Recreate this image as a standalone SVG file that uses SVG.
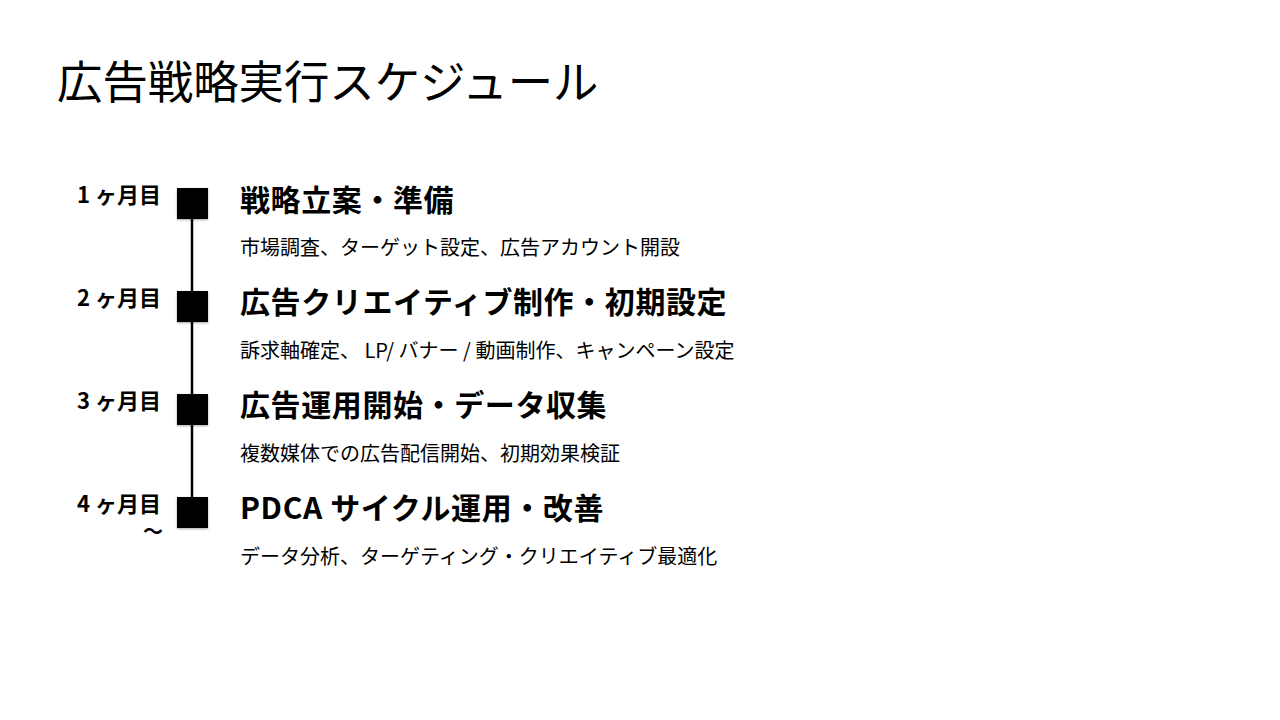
<svg xmlns="http://www.w3.org/2000/svg" width="1280" height="720" viewBox="0 0 1280 720">
<style>
text{font-family:"Noto Sans CJK JP","Noto Sans",sans-serif;fill:#000}
.title{font-size:45.4px;font-weight:400}
.mon{font-size:22px;font-weight:700;text-anchor:end}
.tilde{font-size:20px;font-weight:700;text-anchor:end}
.head{font-size:30px;font-weight:700;letter-spacing:0.6px}
.desc{font-size:20px;font-weight:400}
.sq{fill:#000;filter:url(#sh)}
</style>
<defs>
<filter id="sh" x="-30%" y="-30%" width="160%" height="160%">
<feDropShadow dx="0" dy="1" stdDeviation="1.2" flood-color="#000" flood-opacity="0.35"/>
</filter>
</defs>
<rect width="1280" height="720" fill="#fff"/>
<text class="title" x="57" y="99">広告戦略実行スケジュール</text>
<g id="connectors">
<line x1="192" y1="219" x2="192" y2="497" stroke="#000" stroke-width="2.5"/>
</g>
<g id="step1">
<text class="mon" x="161" y="203">1 ヶ月目</text>
<rect class="sq" x="177" y="188" width="31" height="31"/>
<text class="head" x="240" y="211">戦略立案・準備</text>
<text class="desc" x="240" y="255">市場調査、ターゲット設定、広告アカウント開設</text>
</g>
<g id="step2">
<text class="mon" x="161" y="306">2 ヶ月目</text>
<rect class="sq" x="177" y="291" width="31" height="31"/>
<text class="head" x="240" y="313">広告クリエイティブ制作・初期設定</text>
<text class="desc" x="240" y="358">訴求軸確定、 LP/ バナー / 動画制作、キャンペーン設定</text>
</g>
<g id="step3">
<text class="mon" x="161" y="409">3 ヶ月目</text>
<rect class="sq" x="177" y="394" width="31" height="31"/>
<text class="head" x="240" y="416">広告運用開始・データ収集</text>
<text class="desc" x="240" y="461">複数媒体での広告配信開始、初期効果検証</text>
</g>
<g id="step4">
<text class="mon" x="161" y="512">4 ヶ月目</text>
<text class="tilde" x="163" y="539">〜</text>
<rect class="sq" x="177" y="497" width="31" height="31"/>
<text class="head" x="240" y="519">PDCA サイクル運用・改善</text>
<text class="desc" x="240" y="564">データ分析、ターゲティング・クリエイティブ最適化</text>
</g>
</svg>
